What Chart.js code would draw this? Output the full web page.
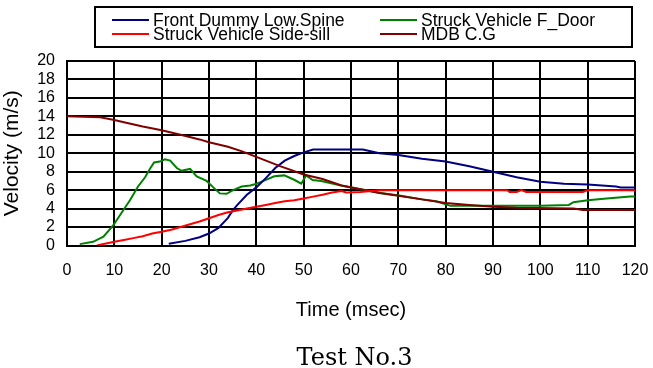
<!DOCTYPE html>
<html>
<head>
<meta charset="utf-8">
<title>Velocity - Test No.3</title>
<script src="https://cdn.jsdelivr.net/npm/chart.js@4.4.1/dist/chart.umd.min.js"></script>
<style>
    html, body { margin: 0; padding: 0; background: #ffffff; }
    #chart { display: block; }
</style>
</head>
<body>
<canvas id="chart" width="653" height="368"></canvas>
<script>
// Velocity traces (time in msec, velocity in m/s)
const spineTime = [21.5, 25, 28, 30, 32, 34, 35, 36, 38, 40, 42, 44, 46, 48, 50, 52, 62.5, 66, 70, 75, 80, 85, 90, 95, 100, 105, 110, 116, 117, 120];
const spineVel  = [0.2, 0.5, 0.9, 1.3, 1.9, 3.0, 3.8, 4.4, 5.5, 6.3, 7.3, 8.4, 9.2, 9.7, 10.1, 10.4, 10.4, 10.0, 9.8, 9.4, 9.1, 8.6, 8.0, 7.4, 6.9, 6.7, 6.6, 6.4, 6.3, 6.3];

const doorTime = [2.7, 5.5, 7.7, 9.8, 11.6, 13.3, 15, 16.5, 17.5, 18.4, 19.6, 20.7, 21.8, 23.2, 24.2, 26, 27.4, 29.5, 30.9, 32.3, 33.7, 35.1, 36.9, 38.7, 40.1, 41, 43.8, 45.9, 48.1, 49.5, 50.5, 51.9, 53.7, 57.9, 62, 66.3, 70.5, 75, 78, 81, 90, 100, 106, 107, 110, 114, 119, 120];
const doorVel  = [0.15, 0.4, 0.95, 2.2, 3.6, 4.9, 6.4, 7.4, 8.3, 9.0, 9.1, 9.35, 9.2, 8.4, 8.1, 8.3, 7.5, 7.0, 6.3, 5.65, 5.6, 6.0, 6.4, 6.5, 6.7, 6.9, 7.5, 7.6, 7.1, 6.7, 7.6, 7.1, 7.0, 6.5, 6.1, 5.7, 5.4, 5.0, 4.8, 4.3, 4.3, 4.3, 4.4, 4.7, 4.9, 5.1, 5.3, 5.3];

const sillTime = [6.3, 8, 10, 12, 14, 16, 18, 20, 22, 24, 26, 28, 30, 32, 34, 36, 38, 40, 42, 44, 46, 48, 50, 52, 54, 56, 58, 59, 62, 66, 93, 93.5, 95, 96, 97, 109, 110, 120];
const sillVel  = [0, 0.2, 0.4, 0.6, 0.8, 1.0, 1.3, 1.5, 1.7, 2.0, 2.3, 2.6, 2.95, 3.3, 3.6, 3.8, 4.0, 4.2, 4.4, 4.6, 4.8, 4.9, 5.1, 5.3, 5.5, 5.75, 5.9, 5.75, 5.8, 6.0, 6.0, 5.8, 5.8, 6.0, 5.8, 5.8, 6.0, 6.0];

const mdbTime = [0, 7, 10, 12.5, 16, 20, 24, 28, 30, 34, 37, 40, 45, 50, 54, 58, 62, 66, 70, 75, 80, 85, 90, 95, 107, 109, 120];
const mdbVel  = [14.0, 13.9, 13.6, 13.3, 12.9, 12.5, 12.0, 11.5, 11.2, 10.7, 10.2, 9.6, 8.6, 7.7, 7.2, 6.5, 6.1, 5.7, 5.4, 5.0, 4.6, 4.4, 4.2, 4.1, 4.0, 3.85, 3.85];

const seriesLabels = ['Front Dummy Low.Spine', 'Struck Vehicle F_Door', 'Struck Vehicle Side-sill', 'MDB C.G'];
const seriesColors = ['#000080', '#008000', '#ff0000', '#800000'];

const xTitle = 'Time (msec)';
const yTitle = 'Velocity (m/s)';
const chartTitle = 'Test No.3';

const SANS = "'Liberation Sans', Arial, sans-serif";
const SERIF = "'DejaVu Serif', 'Liberation Serif', serif";

function toPoints(times, values) {
    return times.map((t, i) => ({ x: t, y: values[i] }));
}

// Boxed two-column legend above the plot, caption under the axis title
const boxLegend = {
    id: 'boxLegend',
    afterDraw(chart) {
        const ctx = chart.ctx;
        const box = { left: 95, top: 7, right: 632, bottom: 47 };
        const slots = [
            { x: 112, y: 21 }, { x: 380, y: 21 },
            { x: 112, y: 35 }, { x: 380, y: 35 }
        ];
        ctx.save();
        ctx.fillStyle = '#ffffff';
        ctx.fillRect(box.left, box.top, box.right - box.left, box.bottom - box.top);
        ctx.strokeStyle = '#000000';
        ctx.lineWidth = 2;
        ctx.strokeRect(box.left, box.top, box.right - box.left, box.bottom - box.top);

        ctx.font = `17.5px ${SANS}`;
        ctx.textBaseline = 'middle';
        ctx.textAlign = 'left';
        chart.data.datasets.forEach((ds, i) => {
            const s = slots[i];
            ctx.strokeStyle = ds.borderColor;
            ctx.lineWidth = 2;
            ctx.beginPath();
            ctx.moveTo(s.x, s.y - 1);
            ctx.lineTo(s.x + 37, s.y - 1);
            ctx.stroke();
            ctx.fillStyle = '#000000';
            ctx.fillText(ds.label, s.x + 41, s.y);
        });

        ctx.font = `24px ${SERIF}`;
        ctx.textAlign = 'center';
        ctx.textBaseline = 'alphabetic';
        ctx.fillText(chartTitle, 354.5, 365);
        ctx.restore();
    }
};

const datasets = [
    { label: seriesLabels[0], data: toPoints(spineTime, spineVel), borderColor: seriesColors[0], order: 3 },
    { label: seriesLabels[1], data: toPoints(doorTime, doorVel), borderColor: seriesColors[1], order: 4 },
    { label: seriesLabels[2], data: toPoints(sillTime, sillVel), borderColor: seriesColors[2], order: 1 },
    { label: seriesLabels[3], data: toPoints(mdbTime, mdbVel), borderColor: seriesColors[3], order: 2 }
].map(ds => Object.assign(ds, {
    borderWidth: 2,
    pointRadius: 0,
    tension: 0,
    fill: false
}));

new Chart(document.getElementById('chart'), {
    type: 'line',
    data: { datasets },
    options: {
        responsive: false,
        animation: false,
        events: [],
        layout: { padding: { left: 0, right: 18, top: 61, bottom: 0 } },
        plugins: {
            legend: { display: false },
            tooltip: { enabled: false },
            title: { display: false }
        },
        scales: {
            x: {
                type: 'linear',
                min: 0,
                max: 120,
                afterFit(scale) {
                    // keep the plot edge fixed regardless of the end tick labels
                    scale.height = 122.5;
                    scale.paddingLeft = 0;
                    scale.paddingRight = 0;
                },
                ticks: {
                    stepSize: 10,
                    autoSkip: false,
                    maxRotation: 0,
                    padding: 15,
                    color: '#000000',
                    font: { family: SANS, size: 16 }
                },
                grid: { color: '#000000', lineWidth: 2, drawTicks: false },
                border: { color: '#000000', width: 2 },
                title: {
                    display: true,
                    text: xTitle,
                    color: '#000000',
                    font: { family: SANS, size: 20 },
                    padding: { top: 0, bottom: 46 }
                }
            },
            y: {
                min: 0,
                max: 20,
                afterFit(scale) { scale.width = 67; },
                ticks: {
                    stepSize: 2,
                    autoSkip: false,
                    padding: 12,
                    color: '#000000',
                    font: { family: SANS, size: 16 }
                },
                grid: { color: '#000000', lineWidth: 2, drawTicks: false },
                border: { color: '#000000', width: 2 },
                title: {
                    display: true,
                    text: yTitle,
                    color: '#000000',
                    font: { family: SANS, size: 21 },
                    padding: { top: 0, bottom: 0 }
                }
            }
        }
    },
    plugins: [boxLegend]
});
</script>
</body>
</html>
